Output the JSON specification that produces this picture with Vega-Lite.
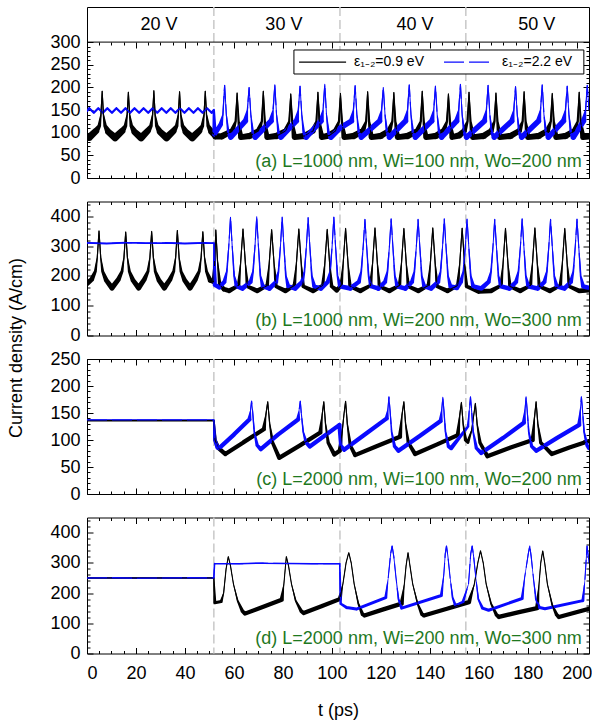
{
  "$schema": "https://vega.github.io/schema/vega-lite/v6.json",
  "padding": {"left": 7, "top": 5, "right": 2, "bottom": 5},
  "config": {
    "font": "Liberation Sans",
    "view": {"stroke": "black", "strokeWidth": 1},
    "axis": {"domain": false, "grid": false, "tickColor": "black", "tickWidth": 1, "labelFontSize": 18, "labelColor": "black", "titleFontSize": 18, "titleFontWeight": "normal", "titleColor": "black", "labelOverlap": false}
  },
  "datasets": {
    "volts": [{"t": 51.8}, {"t": 103.3}, {"t": 154.7}],
    "hdr": [{"t": 29.4, "v": "20 V"}, {"t": 80.4, "v": "30 V"}, {"t": 133.9, "v": "40 V"}, {"t": 183.7, "v": "50 V"}],
    "a": [
      {"e":"0.9","t":0,"j":93,"n":14},{"e":"0.9","t":1,"j":90,"n":16},{"e":"0.9","t":3.7,"j":104,"n":14},{"e":"0.9","t":5,"j":115,"n":8},{"e":"0.9","t":5.7,"j":140,"n":3},{"e":"0.9","t":6.2,"j":192,"n":2},{"e":"0.9","t":6.7,"j":140,"n":3},{"e":"0.9","t":7.4,"j":115,"n":8},{"e":"0.9","t":8.7,"j":102,"n":14},{"e":"0.9","t":11.5,"j":89,"n":16},
      {"e":"0.9","t":14.4,"j":104,"n":14},{"e":"0.9","t":15.7,"j":115,"n":8},{"e":"0.9","t":16.4,"j":140,"n":3},{"e":"0.9","t":16.9,"j":190,"n":2},{"e":"0.9","t":17.4,"j":140,"n":3},{"e":"0.9","t":18.1,"j":115,"n":8},{"e":"0.9","t":19.4,"j":102,"n":14},{"e":"0.9","t":22.1,"j":89,"n":16},
      {"e":"0.9","t":24.8,"j":104,"n":14},{"e":"0.9","t":26.1,"j":115,"n":8},{"e":"0.9","t":26.8,"j":140,"n":3},{"e":"0.9","t":27.3,"j":193,"n":2},{"e":"0.9","t":27.8,"j":140,"n":3},{"e":"0.9","t":28.5,"j":115,"n":8},{"e":"0.9","t":29.8,"j":102,"n":14},{"e":"0.9","t":32.5,"j":89,"n":16},
      {"e":"0.9","t":35.3,"j":104,"n":14},{"e":"0.9","t":36.6,"j":115,"n":8},{"e":"0.9","t":37.3,"j":140,"n":3},{"e":"0.9","t":37.8,"j":191,"n":2},{"e":"0.9","t":38.3,"j":140,"n":3},{"e":"0.9","t":39,"j":115,"n":8},{"e":"0.9","t":40.3,"j":102,"n":14},{"e":"0.9","t":43,"j":89,"n":16},
      {"e":"0.9","t":45.8,"j":104,"n":14},{"e":"0.9","t":47.1,"j":115,"n":8},{"e":"0.9","t":47.8,"j":140,"n":3},{"e":"0.9","t":48.3,"j":192,"n":2},{"e":"0.9","t":48.8,"j":140,"n":3},{"e":"0.9","t":49.5,"j":115,"n":8},{"e":"0.9","t":50.8,"j":102,"n":14},{"e":"0.9","t":51.8,"j":97,"n":14},
      {"e":"0.9","t":52.5,"j":92,"n":14},{"e":"0.9","t":55,"j":92,"n":14},{"e":"0.9","t":59.3,"j":104,"n":12},{"e":"0.9","t":60.7,"j":125,"n":5},{"e":"0.9","t":61.3,"j":188,"n":2},{"e":"0.9","t":61.9,"j":125,"n":5},{"e":"0.9","t":62.8,"j":90,"n":12},{"e":"0.9","t":66.5,"j":93,"n":14},
      {"e":"0.9","t":70,"j":104,"n":12},{"e":"0.9","t":71.4,"j":125,"n":5},{"e":"0.9","t":72,"j":192,"n":2},{"e":"0.9","t":72.6,"j":125,"n":5},{"e":"0.9","t":73.5,"j":90,"n":12},{"e":"0.9","t":77.5,"j":93,"n":14},
      {"e":"0.9","t":81.2,"j":104,"n":12},{"e":"0.9","t":82.6,"j":125,"n":5},{"e":"0.9","t":83.2,"j":186,"n":2},{"e":"0.9","t":83.8,"j":125,"n":5},{"e":"0.9","t":84.7,"j":90,"n":12},{"e":"0.9","t":88.8,"j":93,"n":14},
      {"e":"0.9","t":92.3,"j":104,"n":12},{"e":"0.9","t":93.7,"j":125,"n":5},{"e":"0.9","t":94.3,"j":190,"n":2},{"e":"0.9","t":94.9,"j":125,"n":5},{"e":"0.9","t":95.8,"j":90,"n":12},{"e":"0.9","t":99,"j":94,"n":14},
      {"e":"0.9","t":101.5,"j":104,"n":12},{"e":"0.9","t":102.9,"j":125,"n":5},{"e":"0.9","t":103.5,"j":187,"n":2},{"e":"0.9","t":104.1,"j":125,"n":5},{"e":"0.9","t":105,"j":90,"n":12},{"e":"0.9","t":109,"j":93,"n":14},
      {"e":"0.9","t":112.6,"j":104,"n":12},{"e":"0.9","t":114,"j":125,"n":5},{"e":"0.9","t":114.6,"j":191,"n":2},{"e":"0.9","t":115.2,"j":125,"n":5},{"e":"0.9","t":116.1,"j":90,"n":12},{"e":"0.9","t":120,"j":93,"n":14},
      {"e":"0.9","t":123.3,"j":104,"n":12},{"e":"0.9","t":124.7,"j":125,"n":5},{"e":"0.9","t":125.3,"j":189,"n":2},{"e":"0.9","t":125.9,"j":125,"n":5},{"e":"0.9","t":126.8,"j":90,"n":12},{"e":"0.9","t":131,"j":93,"n":14},
      {"e":"0.9","t":134.9,"j":104,"n":12},{"e":"0.9","t":136.3,"j":125,"n":5},{"e":"0.9","t":136.9,"j":192,"n":2},{"e":"0.9","t":137.5,"j":125,"n":5},{"e":"0.9","t":138.4,"j":90,"n":12},{"e":"0.9","t":142.5,"j":93,"n":14},
      {"e":"0.9","t":145.6,"j":104,"n":12},{"e":"0.9","t":147,"j":125,"n":5},{"e":"0.9","t":147.6,"j":186,"n":2},{"e":"0.9","t":148.2,"j":125,"n":5},{"e":"0.9","t":149.1,"j":90,"n":12},{"e":"0.9","t":152,"j":94,"n":14},
      {"e":"0.9","t":154,"j":104,"n":12},{"e":"0.9","t":155.4,"j":125,"n":5},{"e":"0.9","t":156,"j":190,"n":2},{"e":"0.9","t":156.6,"j":125,"n":5},{"e":"0.9","t":157.5,"j":90,"n":12},{"e":"0.9","t":162,"j":93,"n":14},
      {"e":"0.9","t":165,"j":104,"n":12},{"e":"0.9","t":166.4,"j":125,"n":5},{"e":"0.9","t":167,"j":188,"n":2},{"e":"0.9","t":167.6,"j":125,"n":5},{"e":"0.9","t":168.5,"j":90,"n":12},{"e":"0.9","t":173,"j":93,"n":14},
      {"e":"0.9","t":176.5,"j":104,"n":12},{"e":"0.9","t":177.9,"j":125,"n":5},{"e":"0.9","t":178.5,"j":191,"n":2},{"e":"0.9","t":179.1,"j":125,"n":5},{"e":"0.9","t":180,"j":90,"n":12},{"e":"0.9","t":184.5,"j":93,"n":14},
      {"e":"0.9","t":188,"j":104,"n":12},{"e":"0.9","t":189.4,"j":125,"n":5},{"e":"0.9","t":190,"j":187,"n":2},{"e":"0.9","t":190.6,"j":125,"n":5},{"e":"0.9","t":191.5,"j":90,"n":12},{"e":"0.9","t":195.5,"j":93,"n":14},
      {"e":"0.9","t":199,"j":104,"n":12},{"e":"0.9","t":200.4,"j":125,"n":5},{"e":"0.9","t":201,"j":190,"n":2},{"e":"0.9","t":201.6,"j":125,"n":5},{"e":"0.9","t":202.5,"j":90,"n":12},{"e":"0.9","t":205,"j":92,"n":14},
      {"e":"2.2","t":0,"j":148,"n":5},{"e":"2.2","t":0.9,"j":154,"n":5},{"e":"2.2","t":2.8,"j":144,"n":5},{"e":"2.2","t":4.6,"j":154,"n":5},{"e":"2.2","t":6.5,"j":144,"n":5},{"e":"2.2","t":8.3,"j":154,"n":5},{"e":"2.2","t":10.2,"j":144,"n":5},{"e":"2.2","t":12,"j":154,"n":5},{"e":"2.2","t":13.9,"j":144,"n":5},{"e":"2.2","t":15.7,"j":154,"n":5},
      {"e":"2.2","t":17.6,"j":144,"n":5},{"e":"2.2","t":19.4,"j":154,"n":5},{"e":"2.2","t":21.3,"j":144,"n":5},{"e":"2.2","t":23.1,"j":154,"n":5},{"e":"2.2","t":25,"j":144,"n":5},{"e":"2.2","t":26.8,"j":154,"n":5},{"e":"2.2","t":28.7,"j":144,"n":5},{"e":"2.2","t":30.5,"j":154,"n":5},{"e":"2.2","t":32.4,"j":144,"n":5},{"e":"2.2","t":34.2,"j":154,"n":5},
      {"e":"2.2","t":36.1,"j":144,"n":5},{"e":"2.2","t":37.9,"j":154,"n":5},{"e":"2.2","t":39.8,"j":144,"n":5},{"e":"2.2","t":41.6,"j":154,"n":5},{"e":"2.2","t":43.5,"j":144,"n":5},{"e":"2.2","t":45.3,"j":154,"n":5},{"e":"2.2","t":47.2,"j":144,"n":5},{"e":"2.2","t":49,"j":154,"n":5},{"e":"2.2","t":50.9,"j":144,"n":5},{"e":"2.2","t":51.8,"j":150,"n":5},
      {"e":"2.2","t":52.1,"j":96,"n":10},{"e":"2.2","t":54.6,"j":118,"n":10},{"e":"2.2","t":55.5,"j":140,"n":3},{"e":"2.2","t":56.2,"j":205,"n":0},{"e":"2.2","t":56.9,"j":140,"n":0},{"e":"2.2","t":57.7,"j":100,"n":6},{"e":"2.2","t":58.7,"j":90,"n":12},
      {"e":"2.2","t":64.7,"j":126,"n":12},{"e":"2.2","t":65.5,"j":150,"n":3},{"e":"2.2","t":66.2,"j":200,"n":0},{"e":"2.2","t":66.9,"j":140,"n":0},{"e":"2.2","t":67.7,"j":100,"n":6},{"e":"2.2","t":68.7,"j":90,"n":12},
      {"e":"2.2","t":75.2,"j":126,"n":12},{"e":"2.2","t":76,"j":150,"n":3},{"e":"2.2","t":76.7,"j":206,"n":0},{"e":"2.2","t":77.4,"j":140,"n":0},{"e":"2.2","t":78.2,"j":100,"n":6},{"e":"2.2","t":79.2,"j":90,"n":12},
      {"e":"2.2","t":85.5,"j":126,"n":12},{"e":"2.2","t":86.3,"j":150,"n":3},{"e":"2.2","t":87,"j":203,"n":0},{"e":"2.2","t":87.7,"j":140,"n":0},{"e":"2.2","t":88.5,"j":100,"n":6},{"e":"2.2","t":89.5,"j":90,"n":12},
      {"e":"2.2","t":95.6,"j":126,"n":12},{"e":"2.2","t":96.4,"j":150,"n":3},{"e":"2.2","t":97.1,"j":207,"n":0},{"e":"2.2","t":97.8,"j":140,"n":0},{"e":"2.2","t":98.6,"j":100,"n":6},{"e":"2.2","t":99.6,"j":90,"n":12},
      {"e":"2.2","t":103.3,"j":110,"n":12},{"e":"2.2","t":108,"j":126,"n":12},{"e":"2.2","t":108.8,"j":150,"n":3},{"e":"2.2","t":109.5,"j":204,"n":0},{"e":"2.2","t":110.2,"j":140,"n":0},{"e":"2.2","t":111,"j":100,"n":6},{"e":"2.2","t":112,"j":90,"n":12},
      {"e":"2.2","t":119.5,"j":126,"n":12},{"e":"2.2","t":120.3,"j":150,"n":3},{"e":"2.2","t":121,"j":200,"n":0},{"e":"2.2","t":121.7,"j":140,"n":0},{"e":"2.2","t":122.5,"j":100,"n":6},{"e":"2.2","t":123.5,"j":90,"n":12},
      {"e":"2.2","t":130.1,"j":126,"n":12},{"e":"2.2","t":130.9,"j":150,"n":3},{"e":"2.2","t":131.6,"j":206,"n":0},{"e":"2.2","t":132.3,"j":140,"n":0},{"e":"2.2","t":133.1,"j":100,"n":6},{"e":"2.2","t":134.1,"j":90,"n":12},
      {"e":"2.2","t":140.8,"j":126,"n":12},{"e":"2.2","t":141.6,"j":150,"n":3},{"e":"2.2","t":142.3,"j":203,"n":0},{"e":"2.2","t":143,"j":140,"n":0},{"e":"2.2","t":143.8,"j":100,"n":6},{"e":"2.2","t":144.8,"j":90,"n":12},
      {"e":"2.2","t":151,"j":126,"n":12},{"e":"2.2","t":151.8,"j":150,"n":3},{"e":"2.2","t":152.5,"j":207,"n":0},{"e":"2.2","t":153.2,"j":140,"n":0},{"e":"2.2","t":154,"j":100,"n":6},{"e":"2.2","t":155,"j":90,"n":12},
      {"e":"2.2","t":162.3,"j":126,"n":12},{"e":"2.2","t":163.1,"j":150,"n":3},{"e":"2.2","t":163.8,"j":205,"n":0},{"e":"2.2","t":164.5,"j":140,"n":0},{"e":"2.2","t":165.3,"j":100,"n":6},{"e":"2.2","t":166.3,"j":90,"n":12},
      {"e":"2.2","t":173.5,"j":126,"n":12},{"e":"2.2","t":174.3,"j":150,"n":3},{"e":"2.2","t":175,"j":202,"n":0},{"e":"2.2","t":175.7,"j":140,"n":0},{"e":"2.2","t":176.5,"j":100,"n":6},{"e":"2.2","t":177.5,"j":90,"n":12},
      {"e":"2.2","t":184.4,"j":126,"n":12},{"e":"2.2","t":185.2,"j":150,"n":3},{"e":"2.2","t":185.9,"j":206,"n":0},{"e":"2.2","t":186.6,"j":140,"n":0},{"e":"2.2","t":187.4,"j":100,"n":6},{"e":"2.2","t":188.4,"j":90,"n":12},
      {"e":"2.2","t":194.6,"j":126,"n":12},{"e":"2.2","t":195.4,"j":150,"n":3},{"e":"2.2","t":196.1,"j":203,"n":0},{"e":"2.2","t":196.8,"j":140,"n":0},{"e":"2.2","t":197.6,"j":100,"n":6},{"e":"2.2","t":198.6,"j":90,"n":12},
      {"e":"2.2","t":202.8,"j":126,"n":12},{"e":"2.2","t":203.6,"j":150,"n":3},{"e":"2.2","t":204.3,"j":205,"n":0},{"e":"2.2","t":205,"j":150,"n":0}
    ],
    "b": [
      {"e":"0.9","t":0,"j":175,"n":18},{"e":"0.9","t":1.9,"j":188,"n":16},{"e":"0.9","t":3.4,"j":215,"n":10},{"e":"0.9","t":4.2,"j":262,"n":4},{"e":"0.9","t":4.9,"j":352,"n":3},{"e":"0.9","t":5.6,"j":262,"n":4},{"e":"0.9","t":6.4,"j":215,"n":10},{"e":"0.9","t":7.9,"j":185,"n":16},{"e":"0.9","t":10.2,"j":160,"n":18},
      {"e":"0.9","t":12.8,"j":188,"n":16},{"e":"0.9","t":14.3,"j":215,"n":10},{"e":"0.9","t":15.1,"j":262,"n":4},{"e":"0.9","t":15.8,"j":348,"n":3},{"e":"0.9","t":16.5,"j":262,"n":4},{"e":"0.9","t":17.3,"j":215,"n":10},{"e":"0.9","t":18.8,"j":185,"n":16},{"e":"0.9","t":21.1,"j":160,"n":18},
      {"e":"0.9","t":23.4,"j":188,"n":16},{"e":"0.9","t":24.9,"j":215,"n":10},{"e":"0.9","t":25.7,"j":262,"n":4},{"e":"0.9","t":26.4,"j":350,"n":3},{"e":"0.9","t":27.1,"j":262,"n":4},{"e":"0.9","t":27.9,"j":215,"n":10},{"e":"0.9","t":29.4,"j":185,"n":16},{"e":"0.9","t":31.6,"j":160,"n":18},
      {"e":"0.9","t":33.9,"j":188,"n":16},{"e":"0.9","t":35.4,"j":215,"n":10},{"e":"0.9","t":36.2,"j":262,"n":4},{"e":"0.9","t":36.9,"j":353,"n":3},{"e":"0.9","t":37.6,"j":262,"n":4},{"e":"0.9","t":38.4,"j":215,"n":10},{"e":"0.9","t":39.9,"j":185,"n":16},{"e":"0.9","t":42.1,"j":160,"n":18},
      {"e":"0.9","t":44.3,"j":188,"n":16},{"e":"0.9","t":45.8,"j":215,"n":10},{"e":"0.9","t":46.6,"j":262,"n":4},{"e":"0.9","t":47.3,"j":349,"n":3},{"e":"0.9","t":48,"j":262,"n":4},{"e":"0.9","t":48.8,"j":215,"n":10},{"e":"0.9","t":50.3,"j":185,"n":16},{"e":"0.9","t":51.8,"j":180,"n":16},
      {"e":"0.9","t":52.2,"j":260,"n":4},{"e":"0.9","t":52.6,"j":355,"n":3},{"e":"0.9","t":53.3,"j":250,"n":4},{"e":"0.9","t":54.2,"j":170,"n":12},{"e":"0.9","t":56,"j":155,"n":16},{"e":"0.9","t":58,"j":150,"n":16},
      {"e":"0.9","t":61.9,"j":168,"n":12},{"e":"0.9","t":62.7,"j":240,"n":4},{"e":"0.9","t":63.7,"j":358,"n":3},{"e":"0.9","t":64.7,"j":240,"n":4},{"e":"0.9","t":65.5,"j":165,"n":12},{"e":"0.9","t":69.5,"j":150,"n":16},
      {"e":"0.9","t":73.6,"j":168,"n":12},{"e":"0.9","t":74.4,"j":240,"n":4},{"e":"0.9","t":75.4,"j":356,"n":3},{"e":"0.9","t":76.4,"j":240,"n":4},{"e":"0.9","t":77.2,"j":165,"n":12},{"e":"0.9","t":81,"j":150,"n":16},
      {"e":"0.9","t":84.7,"j":168,"n":12},{"e":"0.9","t":85.5,"j":240,"n":4},{"e":"0.9","t":86.5,"j":358,"n":3},{"e":"0.9","t":87.5,"j":240,"n":4},{"e":"0.9","t":88.3,"j":165,"n":12},{"e":"0.9","t":92.3,"j":150,"n":16},
      {"e":"0.9","t":96.3,"j":168,"n":12},{"e":"0.9","t":97.1,"j":240,"n":4},{"e":"0.9","t":98.1,"j":357,"n":3},{"e":"0.9","t":99.1,"j":240,"n":4},{"e":"0.9","t":99.9,"j":165,"n":12},{"e":"0.9","t":102,"j":152,"n":16},
      {"e":"0.9","t":103.8,"j":168,"n":12},{"e":"0.9","t":104.6,"j":240,"n":4},{"e":"0.9","t":105.6,"j":360,"n":3},{"e":"0.9","t":106.6,"j":240,"n":4},{"e":"0.9","t":107.4,"j":165,"n":12},{"e":"0.9","t":111.6,"j":150,"n":16},
      {"e":"0.9","t":115.8,"j":168,"n":12},{"e":"0.9","t":116.6,"j":240,"n":4},{"e":"0.9","t":117.6,"j":362,"n":3},{"e":"0.9","t":118.6,"j":240,"n":4},{"e":"0.9","t":119.4,"j":165,"n":12},{"e":"0.9","t":123.5,"j":150,"n":16},
      {"e":"0.9","t":127.6,"j":168,"n":12},{"e":"0.9","t":128.4,"j":240,"n":4},{"e":"0.9","t":129.4,"j":360,"n":3},{"e":"0.9","t":130.4,"j":240,"n":4},{"e":"0.9","t":131.2,"j":165,"n":12},{"e":"0.9","t":135.3,"j":150,"n":16},
      {"e":"0.9","t":139.4,"j":168,"n":12},{"e":"0.9","t":140.2,"j":240,"n":4},{"e":"0.9","t":141.2,"j":362,"n":3},{"e":"0.9","t":142.2,"j":240,"n":4},{"e":"0.9","t":143,"j":165,"n":12},{"e":"0.9","t":147.2,"j":150,"n":16},
      {"e":"0.9","t":151.4,"j":168,"n":12},{"e":"0.9","t":152.2,"j":240,"n":4},{"e":"0.9","t":153.2,"j":361,"n":3},{"e":"0.9","t":154.2,"j":240,"n":4},{"e":"0.9","t":155,"j":165,"n":12},{"e":"0.9","t":160,"j":148,"n":16},{"e":"0.9","t":165,"j":150,"n":16},
      {"e":"0.9","t":169.1,"j":168,"n":12},{"e":"0.9","t":169.9,"j":240,"n":4},{"e":"0.9","t":170.9,"j":360,"n":3},{"e":"0.9","t":171.9,"j":240,"n":4},{"e":"0.9","t":172.7,"j":165,"n":12},{"e":"0.9","t":176.9,"j":150,"n":16},
      {"e":"0.9","t":181.1,"j":168,"n":12},{"e":"0.9","t":181.9,"j":240,"n":4},{"e":"0.9","t":182.9,"j":362,"n":3},{"e":"0.9","t":183.9,"j":240,"n":4},{"e":"0.9","t":184.7,"j":165,"n":12},{"e":"0.9","t":189,"j":150,"n":16},
      {"e":"0.9","t":193.3,"j":168,"n":12},{"e":"0.9","t":194.1,"j":240,"n":4},{"e":"0.9","t":195.1,"j":360,"n":3},{"e":"0.9","t":196.1,"j":240,"n":4},{"e":"0.9","t":196.9,"j":165,"n":12},{"e":"0.9","t":201,"j":150,"n":16},{"e":"0.9","t":205,"j":152,"n":16},
      {"e":"2.2","t":0,"j":311,"n":6},{"e":"2.2","t":8,"j":309,"n":6},{"e":"2.2","t":16,"j":312,"n":6},{"e":"2.2","t":24,"j":310,"n":6},{"e":"2.2","t":32,"j":311,"n":6},{"e":"2.2","t":40,"j":309,"n":6},{"e":"2.2","t":48,"j":311,"n":6},{"e":"2.2","t":51.9,"j":310,"n":6},
      {"e":"2.2","t":52.2,"j":170,"n":14},{"e":"2.2","t":54,"j":162,"n":16},{"e":"2.2","t":56.1,"j":180,"n":14},{"e":"2.2","t":57.1,"j":215,"n":6},{"e":"2.2","t":57.9,"j":300,"n":0},{"e":"2.2","t":58.6,"j":397,"n":0},{"e":"2.2","t":59.3,"j":300,"n":0},{"e":"2.2","t":60.1,"j":200,"n":6},{"e":"2.2","t":61.1,"j":165,"n":14},{"e":"2.2","t":63.5,"j":158,"n":16},
      {"e":"2.2","t":66.8,"j":180,"n":14},{"e":"2.2","t":67.8,"j":215,"n":6},{"e":"2.2","t":68.6,"j":300,"n":0},{"e":"2.2","t":69.3,"j":399,"n":0},{"e":"2.2","t":70,"j":300,"n":0},{"e":"2.2","t":70.8,"j":200,"n":6},{"e":"2.2","t":71.8,"j":165,"n":14},{"e":"2.2","t":74.5,"j":158,"n":16},
      {"e":"2.2","t":77.2,"j":180,"n":14},{"e":"2.2","t":78.2,"j":215,"n":6},{"e":"2.2","t":79,"j":300,"n":0},{"e":"2.2","t":79.7,"j":398,"n":0},{"e":"2.2","t":80.4,"j":300,"n":0},{"e":"2.2","t":81.2,"j":200,"n":6},{"e":"2.2","t":82.2,"j":165,"n":14},{"e":"2.2","t":85,"j":158,"n":16},
      {"e":"2.2","t":87.8,"j":180,"n":14},{"e":"2.2","t":88.8,"j":215,"n":6},{"e":"2.2","t":89.6,"j":300,"n":0},{"e":"2.2","t":90.3,"j":396,"n":0},{"e":"2.2","t":91,"j":300,"n":0},{"e":"2.2","t":91.8,"j":200,"n":6},{"e":"2.2","t":92.8,"j":165,"n":14},{"e":"2.2","t":95.5,"j":158,"n":16},
      {"e":"2.2","t":98.3,"j":180,"n":14},{"e":"2.2","t":99.3,"j":215,"n":6},{"e":"2.2","t":100.1,"j":300,"n":0},{"e":"2.2","t":100.8,"j":398,"n":0},{"e":"2.2","t":101.5,"j":300,"n":0},{"e":"2.2","t":102.3,"j":200,"n":6},{"e":"2.2","t":103.3,"j":165,"n":14},{"e":"2.2","t":107.5,"j":158,"n":16},
      {"e":"2.2","t":111,"j":180,"n":14},{"e":"2.2","t":112,"j":215,"n":6},{"e":"2.2","t":112.8,"j":300,"n":0},{"e":"2.2","t":113.5,"j":390,"n":0},{"e":"2.2","t":114.2,"j":300,"n":0},{"e":"2.2","t":115,"j":200,"n":6},{"e":"2.2","t":116,"j":165,"n":14},{"e":"2.2","t":119,"j":158,"n":16},
      {"e":"2.2","t":121.7,"j":180,"n":14},{"e":"2.2","t":122.7,"j":215,"n":6},{"e":"2.2","t":123.5,"j":300,"n":0},{"e":"2.2","t":124.2,"j":392,"n":0},{"e":"2.2","t":124.9,"j":300,"n":0},{"e":"2.2","t":125.7,"j":200,"n":6},{"e":"2.2","t":126.7,"j":165,"n":14},{"e":"2.2","t":130,"j":158,"n":16},
      {"e":"2.2","t":132.7,"j":180,"n":14},{"e":"2.2","t":133.7,"j":215,"n":6},{"e":"2.2","t":134.5,"j":300,"n":0},{"e":"2.2","t":135.2,"j":390,"n":0},{"e":"2.2","t":135.9,"j":300,"n":0},{"e":"2.2","t":136.7,"j":200,"n":6},{"e":"2.2","t":137.7,"j":165,"n":14},{"e":"2.2","t":140.5,"j":158,"n":16},
      {"e":"2.2","t":143.4,"j":180,"n":14},{"e":"2.2","t":144.4,"j":215,"n":6},{"e":"2.2","t":145.2,"j":300,"n":0},{"e":"2.2","t":145.9,"j":392,"n":0},{"e":"2.2","t":146.6,"j":300,"n":0},{"e":"2.2","t":147.4,"j":200,"n":6},{"e":"2.2","t":148.4,"j":165,"n":14},{"e":"2.2","t":151,"j":160,"n":16},
      {"e":"2.2","t":152.7,"j":180,"n":14},{"e":"2.2","t":153.7,"j":215,"n":6},{"e":"2.2","t":154.5,"j":300,"n":0},{"e":"2.2","t":155.2,"j":391,"n":0},{"e":"2.2","t":155.9,"j":300,"n":0},{"e":"2.2","t":156.7,"j":200,"n":6},{"e":"2.2","t":157.7,"j":165,"n":14},{"e":"2.2","t":161,"j":158,"n":16},
      {"e":"2.2","t":164,"j":180,"n":14},{"e":"2.2","t":165,"j":215,"n":6},{"e":"2.2","t":165.8,"j":300,"n":0},{"e":"2.2","t":166.5,"j":390,"n":0},{"e":"2.2","t":167.2,"j":300,"n":0},{"e":"2.2","t":168,"j":200,"n":6},{"e":"2.2","t":169,"j":165,"n":14},{"e":"2.2","t":172.5,"j":158,"n":16},
      {"e":"2.2","t":175.2,"j":180,"n":14},{"e":"2.2","t":176.2,"j":215,"n":6},{"e":"2.2","t":177,"j":300,"n":0},{"e":"2.2","t":177.7,"j":392,"n":0},{"e":"2.2","t":178.4,"j":300,"n":0},{"e":"2.2","t":179.2,"j":200,"n":6},{"e":"2.2","t":180.2,"j":165,"n":14},{"e":"2.2","t":184,"j":158,"n":16},
      {"e":"2.2","t":186.8,"j":180,"n":14},{"e":"2.2","t":187.8,"j":215,"n":6},{"e":"2.2","t":188.6,"j":300,"n":0},{"e":"2.2","t":189.3,"j":390,"n":0},{"e":"2.2","t":190,"j":300,"n":0},{"e":"2.2","t":190.8,"j":200,"n":6},{"e":"2.2","t":191.8,"j":165,"n":14},{"e":"2.2","t":195,"j":158,"n":16},
      {"e":"2.2","t":197.6,"j":180,"n":14},{"e":"2.2","t":198.6,"j":215,"n":6},{"e":"2.2","t":199.4,"j":300,"n":0},{"e":"2.2","t":200.1,"j":391,"n":0},{"e":"2.2","t":200.8,"j":300,"n":0},{"e":"2.2","t":201.6,"j":200,"n":6},{"e":"2.2","t":202.6,"j":165,"n":14},{"e":"2.2","t":205,"j":160,"n":16}
    ],
    "c": [
      {"e":"0.9","t":0,"j":136,"n":4},{"e":"0.9","t":13,"j":136,"n":4},{"e":"0.9","t":26,"j":136,"n":4},{"e":"0.9","t":39,"j":136,"n":4},{"e":"0.9","t":51.8,"j":136,"n":4},
      {"e":"0.9","t":52.3,"j":100,"n":8},{"e":"0.9","t":53.5,"j":86,"n":10},{"e":"0.9","t":56.5,"j":74,"n":10},{"e":"0.9","t":64,"j":96,"n":10},{"e":"0.9","t":72.2,"j":120,"n":10},{"e":"0.9","t":73,"j":145,"n":3},{"e":"0.9","t":73.8,"j":171,"n":2},{"e":"0.9","t":74.6,"j":130,"n":3},{"e":"0.9","t":75.8,"j":95,"n":8},{"e":"0.9","t":78.5,"j":67,"n":10},
      {"e":"0.9","t":87,"j":90,"n":10},{"e":"0.9","t":95.3,"j":114,"n":10},{"e":"0.9","t":96,"j":145,"n":3},{"e":"0.9","t":96.7,"j":171,"n":2},{"e":"0.9","t":97.4,"j":130,"n":3},{"e":"0.9","t":98.5,"j":95,"n":8},{"e":"0.9","t":101,"j":73,"n":10},{"e":"0.9","t":103.2,"j":80,"n":10},
      {"e":"0.9","t":104.3,"j":120,"n":3},{"e":"0.9","t":105,"j":150,"n":2},{"e":"0.9","t":105.6,"j":172,"n":2},{"e":"0.9","t":106.3,"j":130,"n":3},{"e":"0.9","t":107.5,"j":90,"n":8},{"e":"0.9","t":109.5,"j":72,"n":10},{"e":"0.9","t":118,"j":88,"n":10},{"e":"0.9","t":127.8,"j":106,"n":10},
      {"e":"0.9","t":128.6,"j":145,"n":3},{"e":"0.9","t":129.4,"j":171,"n":2},{"e":"0.9","t":130.1,"j":130,"n":3},{"e":"0.9","t":131.2,"j":95,"n":8},{"e":"0.9","t":134,"j":74,"n":10},{"e":"0.9","t":143,"j":92,"n":10},{"e":"0.9","t":151.4,"j":109,"n":10},
      {"e":"0.9","t":152.2,"j":145,"n":3},{"e":"0.9","t":152.9,"j":170,"n":2},{"e":"0.9","t":153.6,"j":130,"n":3},{"e":"0.9","t":154.6,"j":100,"n":8},{"e":"0.9","t":155.5,"j":96,"n":8},{"e":"0.9","t":157.1,"j":118,"n":3},{"e":"0.9","t":157.9,"j":145,"n":2},{"e":"0.9","t":158.6,"j":168,"n":2},{"e":"0.9","t":159.3,"j":130,"n":3},{"e":"0.9","t":160.5,"j":95,"n":8},{"e":"0.9","t":163.5,"j":70,"n":10},
      {"e":"0.9","t":173,"j":86,"n":10},{"e":"0.9","t":182,"j":100,"n":10},{"e":"0.9","t":182.7,"j":140,"n":3},{"e":"0.9","t":183.4,"j":171,"n":2},{"e":"0.9","t":184.1,"j":130,"n":3},{"e":"0.9","t":185.3,"j":95,"n":8},{"e":"0.9","t":189.8,"j":74,"n":10},{"e":"0.9","t":197,"j":86,"n":10},{"e":"0.9","t":205,"j":98,"n":10},
      {"e":"2.2","t":0,"j":137,"n":4},{"e":"2.2","t":13,"j":137,"n":4},{"e":"2.2","t":26,"j":137,"n":4},{"e":"2.2","t":39,"j":137,"n":4},{"e":"2.2","t":51.8,"j":137,"n":4},
      {"e":"2.2","t":52.2,"j":100,"n":8},{"e":"2.2","t":53.3,"j":86,"n":10},{"e":"2.2","t":54,"j":85,"n":10},{"e":"2.2","t":60,"j":110,"n":10},{"e":"2.2","t":66.3,"j":138,"n":10},{"e":"2.2","t":66.8,"j":155,"n":2},{"e":"2.2","t":67.2,"j":172,"n":0},{"e":"2.2","t":67.6,"j":155,"n":0},{"e":"2.2","t":68.3,"j":115,"n":4},{"e":"2.2","t":69.5,"j":90,"n":8},{"e":"2.2","t":71,"j":83,"n":10},
      {"e":"2.2","t":78,"j":110,"n":10},{"e":"2.2","t":86.2,"j":138,"n":10},{"e":"2.2","t":86.6,"j":155,"n":2},{"e":"2.2","t":87.1,"j":172,"n":0},{"e":"2.2","t":87.5,"j":150,"n":0},{"e":"2.2","t":88.3,"j":115,"n":4},{"e":"2.2","t":89.5,"j":95,"n":8},{"e":"2.2","t":91,"j":88,"n":10},{"e":"2.2","t":97,"j":108,"n":10},{"e":"2.2","t":103.1,"j":128,"n":10},
      {"e":"2.2","t":103.6,"j":90,"n":8},{"e":"2.2","t":105,"j":82,"n":10},{"e":"2.2","t":114,"j":112,"n":10},{"e":"2.2","t":122.4,"j":140,"n":10},{"e":"2.2","t":122.9,"j":158,"n":2},{"e":"2.2","t":123.3,"j":180,"n":0},{"e":"2.2","t":123.7,"j":158,"n":0},{"e":"2.2","t":124.4,"j":115,"n":4},{"e":"2.2","t":125.6,"j":88,"n":8},{"e":"2.2","t":127.2,"j":80,"n":10},
      {"e":"2.2","t":136,"j":108,"n":10},{"e":"2.2","t":144.4,"j":135,"n":10},{"e":"2.2","t":144.9,"j":158,"n":2},{"e":"2.2","t":145.3,"j":179,"n":0},{"e":"2.2","t":145.7,"j":158,"n":0},{"e":"2.2","t":146.4,"j":115,"n":4},{"e":"2.2","t":147.6,"j":88,"n":8},{"e":"2.2","t":148.7,"j":85,"n":10},
      {"e":"2.2","t":155.6,"j":125,"n":6},{"e":"2.2","t":156.1,"j":155,"n":2},{"e":"2.2","t":156.6,"j":180,"n":0},{"e":"2.2","t":157,"j":158,"n":0},{"e":"2.2","t":157.7,"j":115,"n":4},{"e":"2.2","t":159,"j":85,"n":8},{"e":"2.2","t":161,"j":76,"n":10},
      {"e":"2.2","t":170,"j":104,"n":10},{"e":"2.2","t":178.4,"j":132,"n":10},{"e":"2.2","t":178.9,"j":158,"n":2},{"e":"2.2","t":179.3,"j":180,"n":0},{"e":"2.2","t":179.7,"j":158,"n":0},{"e":"2.2","t":180.4,"j":115,"n":4},{"e":"2.2","t":181.6,"j":88,"n":8},{"e":"2.2","t":183.5,"j":80,"n":10},
      {"e":"2.2","t":192,"j":104,"n":10},{"e":"2.2","t":201,"j":128,"n":10},{"e":"2.2","t":201.5,"j":158,"n":2},{"e":"2.2","t":201.9,"j":180,"n":0},{"e":"2.2","t":202.3,"j":158,"n":0},{"e":"2.2","t":203,"j":115,"n":4},{"e":"2.2","t":204.2,"j":90,"n":8},{"e":"2.2","t":205,"j":85,"n":10}
    ],
    "d": [
      {"e":"0.9","t":0,"j":250,"n":4},{"e":"0.9","t":13,"j":250,"n":4},{"e":"0.9","t":26,"j":250,"n":4},{"e":"0.9","t":39,"j":250,"n":4},{"e":"0.9","t":51.8,"j":250,"n":4},
      {"e":"0.9","t":52.2,"j":168,"n":10},{"e":"0.9","t":54.8,"j":172,"n":10},{"e":"0.9","t":55.8,"j":200,"n":3},{"e":"0.9","t":56.8,"j":280,"n":2},{"e":"0.9","t":57.7,"j":321,"n":2},{"e":"0.9","t":58.6,"j":290,"n":2},{"e":"0.9","t":59.8,"j":230,"n":2},{"e":"0.9","t":61.5,"j":175,"n":6},{"e":"0.9","t":63.5,"j":140,"n":12},{"e":"0.9","t":64.5,"j":132,"n":14},
      {"e":"0.9","t":72,"j":155,"n":14},{"e":"0.9","t":79.5,"j":178,"n":14},{"e":"0.9","t":80.4,"j":230,"n":2},{"e":"0.9","t":81.4,"j":321,"n":2},{"e":"0.9","t":82.3,"j":290,"n":2},{"e":"0.9","t":83.5,"j":230,"n":2},{"e":"0.9","t":85.2,"j":175,"n":6},{"e":"0.9","t":87.5,"j":140,"n":12},{"e":"0.9","t":88.5,"j":134,"n":14},
      {"e":"0.9","t":96,"j":157,"n":14},{"e":"0.9","t":103.2,"j":180,"n":14},{"e":"0.9","t":104.5,"j":230,"n":2},{"e":"0.9","t":105.8,"j":300,"n":2},{"e":"0.9","t":106.9,"j":334,"n":2},{"e":"0.9","t":107.9,"j":300,"n":2},{"e":"0.9","t":109.1,"j":230,"n":2},{"e":"0.9","t":110.8,"j":165,"n":6},{"e":"0.9","t":112.5,"j":130,"n":12},{"e":"0.9","t":113.3,"j":126,"n":14},
      {"e":"0.9","t":121,"j":146,"n":14},{"e":"0.9","t":128.5,"j":165,"n":14},{"e":"0.9","t":129.6,"j":230,"n":2},{"e":"0.9","t":130.3,"j":290,"n":2},{"e":"0.9","t":131.1,"j":334,"n":2},{"e":"0.9","t":131.9,"j":290,"n":2},{"e":"0.9","t":133,"j":230,"n":2},{"e":"0.9","t":135,"j":165,"n":6},{"e":"0.9","t":136.8,"j":130,"n":12},{"e":"0.9","t":137.6,"j":126,"n":14},
      {"e":"0.9","t":147,"j":148,"n":14},{"e":"0.9","t":156,"j":170,"n":14},{"e":"0.9","t":158.2,"j":230,"n":2},{"e":"0.9","t":159.6,"j":300,"n":2},{"e":"0.9","t":160.7,"j":340,"n":2},{"e":"0.9","t":161.8,"j":300,"n":2},{"e":"0.9","t":163,"j":230,"n":2},{"e":"0.9","t":165,"j":165,"n":6},{"e":"0.9","t":167.2,"j":128,"n":12},{"e":"0.9","t":168.2,"j":121,"n":14},
      {"e":"0.9","t":176,"j":136,"n":14},{"e":"0.9","t":183.8,"j":150,"n":14},{"e":"0.9","t":184.6,"j":230,"n":2},{"e":"0.9","t":185.3,"j":300,"n":2},{"e":"0.9","t":186.1,"j":340,"n":2},{"e":"0.9","t":186.9,"j":300,"n":2},{"e":"0.9","t":188,"j":230,"n":2},{"e":"0.9","t":190,"j":160,"n":6},{"e":"0.9","t":191.8,"j":128,"n":12},{"e":"0.9","t":192.7,"j":121,"n":14},{"e":"0.9","t":205,"j":148,"n":14},
      {"e":"2.2","t":0,"j":250,"n":5},{"e":"2.2","t":10,"j":251,"n":5},{"e":"2.2","t":20,"j":249,"n":5},{"e":"2.2","t":30,"j":250,"n":5},{"e":"2.2","t":40,"j":251,"n":5},{"e":"2.2","t":51.8,"j":250,"n":5},
      {"e":"2.2","t":52.1,"j":298,"n":5},{"e":"2.2","t":62,"j":297,"n":5},{"e":"2.2","t":72,"j":299,"n":5},{"e":"2.2","t":82,"j":298,"n":5},{"e":"2.2","t":92,"j":297,"n":5},{"e":"2.2","t":103.2,"j":298,"n":5},
      {"e":"2.2","t":103.6,"j":165,"n":8},{"e":"2.2","t":106,"j":152,"n":10},{"e":"2.2","t":110,"j":147,"n":10},{"e":"2.2","t":122,"j":185,"n":10},{"e":"2.2","t":123,"j":250,"n":2},{"e":"2.2","t":124,"j":330,"n":0},{"e":"2.2","t":124.6,"j":356,"n":0},{"e":"2.2","t":125.3,"j":320,"n":0},{"e":"2.2","t":126.2,"j":250,"n":2},{"e":"2.2","t":127.2,"j":180,"n":6},{"e":"2.2","t":128.5,"j":150,"n":10},
      {"e":"2.2","t":144.7,"j":192,"n":10},{"e":"2.2","t":145.7,"j":260,"n":2},{"e":"2.2","t":146.3,"j":330,"n":0},{"e":"2.2","t":146.8,"j":356,"n":0},{"e":"2.2","t":147.4,"j":320,"n":0},{"e":"2.2","t":148.3,"j":250,"n":2},{"e":"2.2","t":149.3,"j":185,"n":6},{"e":"2.2","t":150.5,"j":158,"n":10},
      {"e":"2.2","t":153.5,"j":170,"n":10},{"e":"2.2","t":155.8,"j":230,"n":2},{"e":"2.2","t":156.7,"j":330,"n":0},{"e":"2.2","t":157.3,"j":356,"n":0},{"e":"2.2","t":157.9,"j":320,"n":0},{"e":"2.2","t":158.8,"j":250,"n":2},{"e":"2.2","t":159.8,"j":180,"n":6},{"e":"2.2","t":161.5,"j":150,"n":10},{"e":"2.2","t":164,"j":143,"n":10},
      {"e":"2.2","t":177.7,"j":182,"n":10},{"e":"2.2","t":178.7,"j":250,"n":2},{"e":"2.2","t":180.2,"j":330,"n":0},{"e":"2.2","t":180.8,"j":356,"n":0},{"e":"2.2","t":181.4,"j":320,"n":0},{"e":"2.2","t":182.3,"j":250,"n":2},{"e":"2.2","t":183.3,"j":180,"n":6},{"e":"2.2","t":184.8,"j":152,"n":10},{"e":"2.2","t":187,"j":148,"n":10},
      {"e":"2.2","t":202.5,"j":175,"n":10},{"e":"2.2","t":203.3,"j":240,"n":2},{"e":"2.2","t":204.2,"j":356,"n":0},{"e":"2.2","t":205,"j":300,"n":0}
    ]
  },
  "vconcat": [
    {
      "width": 502,
      "height": 171,
      "data": {"name": "a"},
      "resolve": {"axis": {"x": "independent", "y": "independent"}},
      "encoding": {
        "color": {"field": "e", "type": "nominal", "scale": {"domain": ["0.9", "2.2"], "range": ["#000000", "#0a0aff"]}, "legend": null}
      },
      "layer": [
        {"data": {"name": "volts"}, "mark": {"type": "rule", "strokeDash": [9, 4], "strokeWidth": 1.5},
         "encoding": {"x": {"field": "t", "type": "quantitative", "scale": {"domain": [0, 205], "nice": false}, "axis": null}, "color": {"value": "#c8c8c8"}}},
        {"data": {"values": [{}]}, "mark": {"type": "rule", "strokeWidth": 1},
         "encoding": {"y": {"datum": 300, "type": "quantitative", "scale": {"domain": [0, 377.5], "nice": false}, "axis": null}, "color": {"value": "black"}}},
        {"data": {"name": "hdr"}, "mark": {"type": "text", "fontSize": 18, "baseline": "middle"},
         "encoding": {"x": {"field": "t", "type": "quantitative", "scale": {"domain": [0, 205], "nice": false}, "axis": null}, "y": {"datum": 338.75, "type": "quantitative", "axis": null}, "text": {"field": "v"}, "color": {"value": "black"}}},
        {"mark": {"type": "trail", "clip": true},
         "encoding": {
           "x": {"field": "t", "type": "quantitative", "scale": {"domain": [0, 205], "nice": false},
             "axis": {"orient": "top", "offset": -35, "values": [0,5,10,15,20,25,30,35,40,45,50,55,60,65,70,75,80,85,90,95,100,105,110,115,120,125,130,135,140,145,150,155,160,165,170,175,180,185,190,195,200,205], "labels": false, "title": null, "tickSize": {"condition": {"test": "datum.value % 20 === 0", "value": -6}, "value": -3}}},
           "y": {"field": "j", "type": "quantitative", "scale": {"domain": [0, 377.5], "nice": false},
             "axis": {"orient": "right", "values": [0,10,20,30,40,50,60,70,80,90,100,110,120,130,140,150,160,170,180,190,200,210,220,230,240,250,260,270,280,290,300], "labels": false, "title": null, "tickSize": {"condition": {"test": "datum.value % 50 === 0", "value": -6}, "value": -3}}},
           "size": {"field": "n", "type": "quantitative", "scale": {"domain": [0, 40], "range": [0, 18.1]}, "legend": null}
         }},
        {"mark": {"type": "line", "strokeWidth": 1.1, "clip": true},
         "encoding": {
           "x": {"field": "t", "type": "quantitative", "scale": {"domain": [0, 205], "nice": false},
             "axis": {"orient": "bottom", "values": [0,5,10,15,20,25,30,35,40,45,50,55,60,65,70,75,80,85,90,95,100,105,110,115,120,125,130,135,140,145,150,155,160,165,170,175,180,185,190,195,200,205], "labels": false, "title": null, "tickSize": {"condition": {"test": "datum.value % 20 === 0", "value": -6}, "value": -3}}},
           "y": {"field": "j", "type": "quantitative", "scale": {"domain": [0, 377.5], "nice": false},
             "axis": {"orient": "left", "values": [0,10,20,30,40,50,60,70,80,90,100,110,120,130,140,150,160,170,180,190,200,210,220,230,240,250,260,270,280,290,300], "labelExpr": "datum.value % 50 === 0 ? datum.label : ''", "labelPadding": 13, "title": null, "tickSize": {"condition": {"test": "datum.value % 50 === 0", "value": -6}, "value": -3}}},
           "strokeDash": {"field": "e", "type": "nominal", "scale": {"domain": ["0.9", "2.2"], "range": [[1, 0], [20, 5]]}, "legend": null}
         }},
        {"data": {"values": [{}]}, "mark": {"type": "rect", "stroke": "black", "strokeWidth": 1},
         "encoding": {"x": {"datum": 84.5, "type": "quantitative", "axis": null}, "x2": {"datum": 202.9}, "y": {"datum": 282.6, "type": "quantitative", "axis": null}, "y2": {"datum": 229.6}, "color": {"value": "white"}}},
        {"data": {"values": [{}]}, "mark": {"type": "rule", "strokeWidth": 1.2},
         "encoding": {"x": {"datum": 86.6, "type": "quantitative", "axis": null}, "x2": {"datum": 105.8}, "y": {"datum": 256, "type": "quantitative", "axis": null}, "color": {"value": "#000000"}}},
        {"data": {"values": [{}]}, "mark": {"type": "rule", "strokeWidth": 1.2, "strokeDash": [20, 5]},
         "encoding": {"x": {"datum": 145.8, "type": "quantitative", "axis": null}, "x2": {"datum": 164.6}, "y": {"datum": 256, "type": "quantitative", "axis": null}, "color": {"value": "#0a0aff"}}},
        {"data": {"values": [{}]}, "mark": {"type": "text", "align": "left", "baseline": "middle", "fontSize": 14},
         "encoding": {"x": {"datum": 109, "type": "quantitative", "axis": null}, "y": {"datum": 256, "type": "quantitative", "axis": null}, "text": {"value": "ε₁₋₂=0.9 eV"}, "color": {"value": "black"}}},
        {"data": {"values": [{}]}, "mark": {"type": "text", "align": "left", "baseline": "middle", "fontSize": 14},
         "encoding": {"x": {"datum": 169.5, "type": "quantitative", "axis": null}, "y": {"datum": 256, "type": "quantitative", "axis": null}, "text": {"value": "ε₁₋₂=2.2 eV"}, "color": {"value": "black"}}},
        {"data": {"values": [{}]}, "mark": {"type": "text", "align": "right", "baseline": "middle", "fontSize": 18},
         "encoding": {"x": {"datum": 202, "type": "quantitative", "axis": null}, "y": {"datum": 36, "type": "quantitative", "axis": null}, "text": {"value": "(a) L=1000 nm, Wi=100 nm, Wo=200 nm"}, "color": {"value": "#1e781e"}}}
      ]
    },
    {
      "width": 502,
      "height": 134,
      "data": {"name": "b"},
      "resolve": {"axis": {"x": "independent", "y": "independent"}},
      "encoding": {
        "color": {"field": "e", "type": "nominal", "scale": {"domain": ["0.9", "2.2"], "range": ["#000000", "#0a0aff"]}, "legend": null}
      },
      "layer": [
        {"data": {"name": "volts"}, "mark": {"type": "rule", "strokeDash": [9, 4], "strokeWidth": 1.5},
         "encoding": {"x": {"field": "t", "type": "quantitative", "scale": {"domain": [0, 205], "nice": false}, "axis": null}, "color": {"value": "#c8c8c8"}}},
        {"mark": {"type": "trail", "clip": true},
         "encoding": {
           "x": {"field": "t", "type": "quantitative", "scale": {"domain": [0, 205], "nice": false},
             "axis": {"orient": "top", "values": [0,5,10,15,20,25,30,35,40,45,50,55,60,65,70,75,80,85,90,95,100,105,110,115,120,125,130,135,140,145,150,155,160,165,170,175,180,185,190,195,200,205], "labels": false, "title": null, "tickSize": {"condition": {"test": "datum.value % 20 === 0", "value": -6}, "value": -3}}},
           "y": {"field": "j", "type": "quantitative", "scale": {"domain": [0, 450], "nice": false},
             "axis": {"orient": "right", "values": [0,20,40,60,80,100,120,140,160,180,200,220,240,260,280,300,320,340,360,380,400,420,440], "labels": false, "title": null, "tickSize": {"condition": {"test": "datum.value % 100 === 0", "value": -6}, "value": -3}}},
           "size": {"field": "n", "type": "quantitative", "scale": {"domain": [0, 40], "range": [0, 11.9]}, "legend": null}
         }},
        {"mark": {"type": "line", "strokeWidth": 1.1, "clip": true},
         "encoding": {
           "x": {"field": "t", "type": "quantitative", "scale": {"domain": [0, 205], "nice": false},
             "axis": {"orient": "bottom", "values": [0,5,10,15,20,25,30,35,40,45,50,55,60,65,70,75,80,85,90,95,100,105,110,115,120,125,130,135,140,145,150,155,160,165,170,175,180,185,190,195,200,205], "labels": false, "title": null, "tickSize": {"condition": {"test": "datum.value % 20 === 0", "value": -6}, "value": -3}}},
           "y": {"field": "j", "type": "quantitative", "scale": {"domain": [0, 450], "nice": false},
             "axis": {"orient": "left", "values": [0,20,40,60,80,100,120,140,160,180,200,220,240,260,280,300,320,340,360,380,400,420,440], "labelExpr": "datum.value % 100 === 0 ? datum.label : ''", "labelPadding": 13, "title": "Current density (A/cm)", "titleY": 146, "titlePadding": 24, "tickSize": {"condition": {"test": "datum.value % 100 === 0", "value": -6}, "value": -3}}},
           "strokeDash": {"field": "e", "type": "nominal", "scale": {"domain": ["0.9", "2.2"], "range": [[1, 0], [20, 5]]}, "legend": null}
         }},
        {"data": {"values": [{}]}, "mark": {"type": "text", "align": "right", "baseline": "middle", "fontSize": 18},
         "encoding": {"x": {"datum": 202, "type": "quantitative", "axis": null}, "y": {"datum": 50, "type": "quantitative", "axis": null}, "text": {"value": "(b) L=1000 nm, Wi=200 nm, Wo=300 nm"}, "color": {"value": "#1e781e"}}}
      ]
    },
    {
      "width": 502,
      "height": 135,
      "data": {"name": "c"},
      "resolve": {"axis": {"x": "independent", "y": "independent"}},
      "encoding": {
        "color": {"field": "e", "type": "nominal", "scale": {"domain": ["0.9", "2.2"], "range": ["#000000", "#0a0aff"]}, "legend": null}
      },
      "layer": [
        {"data": {"name": "volts"}, "mark": {"type": "rule", "strokeDash": [9, 4], "strokeWidth": 1.5},
         "encoding": {"x": {"field": "t", "type": "quantitative", "scale": {"domain": [0, 205], "nice": false}, "axis": null}, "color": {"value": "#c8c8c8"}}},
        {"mark": {"type": "trail", "clip": true},
         "encoding": {
           "x": {"field": "t", "type": "quantitative", "scale": {"domain": [0, 205], "nice": false},
             "axis": {"orient": "top", "values": [0,5,10,15,20,25,30,35,40,45,50,55,60,65,70,75,80,85,90,95,100,105,110,115,120,125,130,135,140,145,150,155,160,165,170,175,180,185,190,195,200,205], "labels": false, "title": null, "tickSize": {"condition": {"test": "datum.value % 20 === 0", "value": -6}, "value": -3}}},
           "y": {"field": "j", "type": "quantitative", "scale": {"domain": [0, 250], "nice": false},
             "axis": {"orient": "right", "values": [0,10,20,30,40,50,60,70,80,90,100,110,120,130,140,150,160,170,180,190,200,210,220,230,240,250], "labels": false, "title": null, "tickSize": {"condition": {"test": "datum.value % 50 === 0", "value": -6}, "value": -3}}},
           "size": {"field": "n", "type": "quantitative", "scale": {"domain": [0, 40], "range": [0, 17]}, "legend": null}
         }},
        {"mark": {"type": "line", "strokeWidth": 1.1, "clip": true},
         "encoding": {
           "x": {"field": "t", "type": "quantitative", "scale": {"domain": [0, 205], "nice": false},
             "axis": {"orient": "bottom", "values": [0,5,10,15,20,25,30,35,40,45,50,55,60,65,70,75,80,85,90,95,100,105,110,115,120,125,130,135,140,145,150,155,160,165,170,175,180,185,190,195,200,205], "labels": false, "title": null, "tickSize": {"condition": {"test": "datum.value % 20 === 0", "value": -6}, "value": -3}}},
           "y": {"field": "j", "type": "quantitative", "scale": {"domain": [0, 250], "nice": false},
             "axis": {"orient": "left", "values": [0,10,20,30,40,50,60,70,80,90,100,110,120,130,140,150,160,170,180,190,200,210,220,230,240,250], "labelExpr": "datum.value % 50 === 0 ? datum.label : ''", "labelPadding": 13, "title": null, "tickSize": {"condition": {"test": "datum.value % 50 === 0", "value": -6}, "value": -3}}},
           "strokeDash": {"field": "e", "type": "nominal", "scale": {"domain": ["0.9", "2.2"], "range": [[1, 0], [20, 5]]}, "legend": null}
         }},
        {"data": {"values": [{}]}, "mark": {"type": "text", "align": "right", "baseline": "middle", "fontSize": 18},
         "encoding": {"x": {"datum": 202, "type": "quantitative", "axis": null}, "y": {"datum": 26, "type": "quantitative", "axis": null}, "text": {"value": "(c) L=2000 nm, Wi=100 nm, Wo=200 nm"}, "color": {"value": "#1e781e"}}}
      ]
    },
    {
      "width": 502,
      "height": 136,
      "data": {"name": "d"},
      "resolve": {"axis": {"x": "independent", "y": "independent"}},
      "encoding": {
        "color": {"field": "e", "type": "nominal", "scale": {"domain": ["0.9", "2.2"], "range": ["#000000", "#0a0aff"]}, "legend": null}
      },
      "layer": [
        {"data": {"name": "volts"}, "mark": {"type": "rule", "strokeDash": [9, 4], "strokeWidth": 1.5},
         "encoding": {"x": {"field": "t", "type": "quantitative", "scale": {"domain": [0, 205], "nice": false}, "axis": null}, "color": {"value": "#c8c8c8"}}},
        {"mark": {"type": "trail", "clip": true},
         "encoding": {
           "x": {"field": "t", "type": "quantitative", "scale": {"domain": [0, 205], "nice": false},
             "axis": {"orient": "top", "values": [0,5,10,15,20,25,30,35,40,45,50,55,60,65,70,75,80,85,90,95,100,105,110,115,120,125,130,135,140,145,150,155,160,165,170,175,180,185,190,195,200,205], "labels": false, "title": null, "tickSize": {"condition": {"test": "datum.value % 20 === 0", "value": -6}, "value": -3}}},
           "y": {"field": "j", "type": "quantitative", "scale": {"domain": [0, 450], "nice": false},
             "axis": {"orient": "right", "values": [0,20,40,60,80,100,120,140,160,180,200,220,240,260,280,300,320,340,360,380,400,420,440], "labels": false, "title": null, "tickSize": {"condition": {"test": "datum.value % 100 === 0", "value": -6}, "value": -3}}},
           "size": {"field": "n", "type": "quantitative", "scale": {"domain": [0, 40], "range": [0, 12.1]}, "legend": null}
         }},
        {"mark": {"type": "line", "strokeWidth": 1.1, "clip": true},
         "encoding": {
           "x": {"field": "t", "type": "quantitative", "scale": {"domain": [0, 205], "nice": false},
             "axis": {"orient": "bottom", "values": [0,5,10,15,20,25,30,35,40,45,50,55,60,65,70,75,80,85,90,95,100,105,110,115,120,125,130,135,140,145,150,155,160,165,170,175,180,185,190,195,200,205], "labelExpr": "datum.value % 20 === 0 ? datum.label : ''", "labelPadding": 17, "title": "t (ps)", "titlePadding": 16, "tickSize": {"condition": {"test": "datum.value % 20 === 0", "value": -6}, "value": -3}}},
           "y": {"field": "j", "type": "quantitative", "scale": {"domain": [0, 450], "nice": false},
             "axis": {"orient": "left", "values": [0,20,40,60,80,100,120,140,160,180,200,220,240,260,280,300,320,340,360,380,400,420,440], "labelExpr": "datum.value % 100 === 0 ? datum.label : ''", "labelPadding": 13, "title": null, "tickSize": {"condition": {"test": "datum.value % 100 === 0", "value": -6}, "value": -3}}},
           "strokeDash": {"field": "e", "type": "nominal", "scale": {"domain": ["0.9", "2.2"], "range": [[1, 0], [20, 5]]}, "legend": null}
         }},
        {"data": {"values": [{}]}, "mark": {"type": "text", "align": "right", "baseline": "middle", "fontSize": 18},
         "encoding": {"x": {"datum": 202, "type": "quantitative", "axis": null}, "y": {"datum": 49, "type": "quantitative", "axis": null}, "text": {"value": "(d) L=2000 nm, Wi=200 nm, Wo=300 nm"}, "color": {"value": "#1e781e"}}}
      ]
    }
  ],
  "spacing": 23.5,
  "bounds": "flush",
  "resolve": {"scale": {"color": "independent", "strokeDash": "independent", "size": "independent"}}
}
